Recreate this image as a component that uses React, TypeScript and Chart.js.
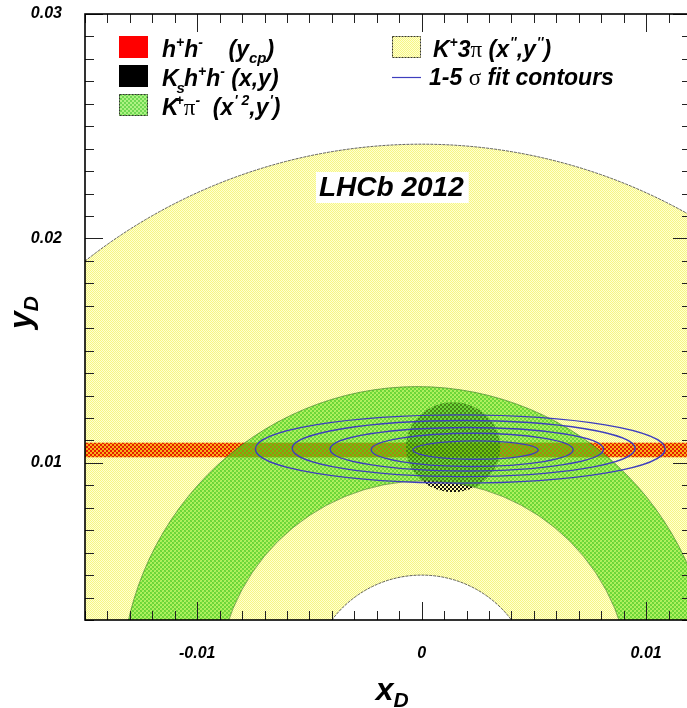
import React, { useEffect, useRef } from 'react';
import { Chart, registerables } from 'chart.js';

Chart.register(...registerables);

// Axis limits and labelled ticks
const X_LIMITS = [-0.015, 0.012];
const Y_LIMITS = [0.003, 0.03];
const X_TICK_LABELS = [-0.01, 0, 0.01];
const Y_TICK_LABELS = [0.01, 0.02, 0.03];
const MINOR_STEP = 0.001;

// K+3pi allowed ring, centred on the origin: [inner radius, outer radius]
const K3PI_RING = [0.005, 0.0242];
// K+pi- allowed ring edges: [centre x, radius along x, radius along y]
const KPI_OUTER = [-0.0002, 0.0132, 0.0134];
const KPI_INNER = [0.0001, 0.0092, 0.0092];
// h+h- band on y (y_CP): [low, high]
const YCP_BAND = [0.01025, 0.0109];
// Ks h+h- region: [centre x, centre y, radius x, radius y]
const KSHH_REGION = [0.0014, 0.0107, 0.0021, 0.002];

// 1-5 sigma fit contours (elliptical), one entry per sigma level
const CONTOUR_SIGMA = [1, 2, 3, 4, 5];
const CONTOUR_CX = [0.0024, 0.00225, 0.00201, 0.00187, 0.00172];
const CONTOUR_CY = [0.01057, 0.01058, 0.01061, 0.01064, 0.01062];
const CONTOUR_RX = [0.00279, 0.0045, 0.00609, 0.00764, 0.00913];
const CONTOUR_RY = [0.00041, 0.00074, 0.00097, 0.00125, 0.00152];

const SANS = '"Liberation Sans", Arial, Helvetica, sans-serif';
const SERIF = '"Liberation Serif", "Times New Roman", serif';
const CONTOUR_COLOR = 'rgb(62,62,190)';

type Seg = { t: string; s?: number; dy?: number; dx?: number; serif?: boolean };

function drawRich(ctx: CanvasRenderingContext2D, x: number, y: number, segs: Seg[], size: number) {
  let cx = x;
  for (const g of segs) {
    const sz = g.s ?? size;
    ctx.font = g.serif ? `${sz}px ${SERIF}` : `italic bold ${sz}px ${SANS}`;
    cx += g.dx ?? 0;
    ctx.fillText(g.t, cx, y + (g.dy ?? 0));
    cx += ctx.measureText(g.t).width;
  }
  return cx - x;
}

function measureRich(ctx: CanvasRenderingContext2D, segs: Seg[], size: number) {
  let w = 0;
  for (const g of segs) {
    const sz = g.s ?? size;
    ctx.font = g.serif ? `${sz}px ${SERIF}` : `italic bold ${sz}px ${SANS}`;
    w += (g.dx ?? 0) + ctx.measureText(g.t).width;
  }
  return w;
}

function makePattern(ctx: CanvasRenderingContext2D, size: number, paint: (g: CanvasRenderingContext2D) => void) {
  const c = document.createElement('canvas');
  c.width = size;
  c.height = size;
  const g = c.getContext('2d')!;
  paint(g);
  return ctx.createPattern(c, 'repeat')!;
}

function buildPatterns(ctx: CanvasRenderingContext2D) {
  return {
    yellow: makePattern(ctx, 2, (g) => {
      g.fillStyle = 'rgb(255,255,208)';
      g.fillRect(0, 0, 2, 2);
      g.fillStyle = 'rgb(246,246,132)';
      g.fillRect(0, 0, 1, 1);
      g.fillRect(1, 1, 1, 1);
    }),
    red: makePattern(ctx, 4, (g) => {
      g.fillStyle = 'rgba(246,165,0,0.85)';
      g.fillRect(0, 0, 4, 4);
      g.fillStyle = 'rgb(232,28,0)';
      g.fillRect(0, 0, 2, 2);
      g.fillRect(2, 2, 2, 2);
    }),
    black: makePattern(ctx, 4, (g) => {
      g.fillStyle = 'rgba(0,0,0,0.92)';
      g.fillRect(0, 0, 2, 2);
      g.fillRect(2, 2, 2, 2);
    }),
    green: makePattern(ctx, 4, (g) => {
      g.fillStyle = 'rgba(109,231,30,0.55)';
      g.fillRect(0, 0, 2, 2);
      g.fillRect(2, 2, 2, 2);
      g.fillStyle = 'rgba(50,200,10,0.7)';
      g.fillRect(2, 0, 2, 2);
      g.fillRect(0, 2, 2, 2);
    }),
  };
}

const regionsPlugin = {
  id: 'mixingRegions',
  beforeDatasetsDraw(chart: any) {
    const { ctx, chartArea: a } = chart;
    const xs = chart.scales.x;
    const ys = chart.scales.y;
    const px = (v: number) => xs.getPixelForValue(v);
    const py = (v: number) => ys.getPixelForValue(v);
    const sx = (d: number) => Math.abs(xs.getPixelForValue(d) - xs.getPixelForValue(0));
    const sy = (d: number) => Math.abs(ys.getPixelForValue(d) - ys.getPixelForValue(0));
    const pats = buildPatterns(ctx);

    ctx.save();
    ctx.beginPath();
    ctx.rect(a.left, a.top, a.right - a.left, a.bottom - a.top);
    ctx.clip();

    const ring = (cxo: number, rxo: number, ryo: number, cxi: number, rxi: number, ryi: number) => {
      ctx.beginPath();
      ctx.ellipse(px(cxo), py(0), sx(rxo), sy(ryo), 0, 0, Math.PI * 2);
      ctx.moveTo(px(cxi) + sx(rxi), py(0));
      ctx.ellipse(px(cxi), py(0), sx(rxi), sy(ryi), 0, 0, Math.PI * 2, true);
    };
    const edge = (cx: number, rx: number, ry: number) => {
      ctx.beginPath();
      ctx.ellipse(px(cx), py(0), sx(rx), sy(ry), 0, 0, Math.PI * 2);
      ctx.stroke();
    };

    // K+3pi ring
    ring(0, K3PI_RING[1], K3PI_RING[1], 0, K3PI_RING[0], K3PI_RING[0]);
    ctx.fillStyle = pats.yellow;
    ctx.fill('evenodd');
    ctx.strokeStyle = 'rgba(70,70,70,0.85)';
    ctx.lineWidth = 1;
    ctx.setLineDash([3, 1]);
    edge(0, K3PI_RING[1], K3PI_RING[1]);
    edge(0, K3PI_RING[0], K3PI_RING[0]);
    ctx.setLineDash([]);

    // h+h- band
    ctx.fillStyle = pats.red;
    ctx.fillRect(a.left, py(YCP_BAND[1]), a.right - a.left, py(YCP_BAND[0]) - py(YCP_BAND[1]));

    // Ks h+h- region
    ctx.beginPath();
    ctx.ellipse(px(KSHH_REGION[0]), py(KSHH_REGION[1]), sx(KSHH_REGION[2]), sy(KSHH_REGION[3]), 0, 0, Math.PI * 2);
    ctx.fillStyle = pats.black;
    ctx.fill();

    // K+pi- ring
    ring(KPI_OUTER[0], KPI_OUTER[1], KPI_OUTER[2], KPI_INNER[0], KPI_INNER[1], KPI_INNER[2]);
    ctx.fillStyle = pats.green;
    ctx.fill('evenodd');
    ctx.strokeStyle = 'rgba(60,120,40,0.6)';
    edge(KPI_OUTER[0], KPI_OUTER[1], KPI_OUTER[2]);
    edge(KPI_INNER[0], KPI_INNER[1], KPI_INNER[2]);

    // fit contours
    ctx.strokeStyle = CONTOUR_COLOR;
    ctx.lineWidth = 1.4;
    CONTOUR_SIGMA.forEach((_, i) => {
      ctx.beginPath();
      ctx.ellipse(px(CONTOUR_CX[i]), py(CONTOUR_CY[i]), sx(CONTOUR_RX[i]), sy(CONTOUR_RY[i]), 0, 0, Math.PI * 2);
      ctx.stroke();
    });
    ctx.restore();
  },
  afterDraw(chart: any) {
    const { ctx, chartArea: a } = chart;
    const xs = chart.scales.x;
    const ys = chart.scales.y;
    const pats = buildPatterns(ctx);
    ctx.save();

    // tick marks on all four sides
    ctx.strokeStyle = '#222';
    ctx.lineWidth = 1;
    ctx.beginPath();
    for (let i = Math.ceil(X_LIMITS[0] / MINOR_STEP - 1e-6); i <= Math.floor(X_LIMITS[1] / MINOR_STEP + 1e-6); i++) {
      const X = Math.round(xs.getPixelForValue(i * MINOR_STEP)) + 0.5;
      const len = i % 10 === 0 ? 18 : 9;
      ctx.moveTo(X, a.bottom);
      ctx.lineTo(X, a.bottom - len);
      ctx.moveTo(X, a.top);
      ctx.lineTo(X, a.top + len);
    }
    for (let i = Math.ceil(Y_LIMITS[0] / MINOR_STEP - 1e-6); i <= Math.floor(Y_LIMITS[1] / MINOR_STEP + 1e-6); i++) {
      const Y = Math.round(ys.getPixelForValue(i * MINOR_STEP)) + 0.5;
      const len = i % 10 === 0 ? 18 : 9;
      ctx.moveTo(a.left, Y);
      ctx.lineTo(a.left + len, Y);
      ctx.moveTo(a.right, Y);
      ctx.lineTo(a.right - len, Y);
    }
    ctx.stroke();

    // frame
    ctx.strokeStyle = '#000';
    ctx.lineWidth = 1.6;
    ctx.strokeRect(a.left, a.top, a.right - a.left, a.bottom - a.top);

    // legend
    ctx.fillStyle = '#000';
    ctx.textBaseline = 'alphabetic';
    ctx.textAlign = 'left';
    const bx = a.left + 34;
    const bw = 29;
    const bh = 22;
    const rows = [a.top + 22, a.top + 51, a.top + 80];
    ctx.fillStyle = '#ff0000';
    ctx.fillRect(bx, rows[0], bw, bh);
    ctx.fillStyle = '#000';
    ctx.fillRect(bx, rows[1], bw, bh);
    ctx.fillStyle = '#fff';
    ctx.fillRect(bx, rows[2], bw, bh);
    ctx.fillStyle = pats.green;
    ctx.fillRect(bx, rows[2], bw, bh);
    ctx.strokeStyle = '#333';
    ctx.lineWidth = 1;
    ctx.setLineDash([2, 1]);
    ctx.strokeRect(bx + 0.5, rows[2] + 0.5, bw - 1, bh - 1);
    ctx.setLineDash([]);

    const tx = a.left + 77;
    const sz = 23;
    const sup = { s: 14, dy: -10 };
    ctx.fillStyle = '#000';
    drawRich(ctx, tx, rows[0] + 21, [
      { t: 'h' }, { t: '+', ...sup }, { t: 'h' }, { t: '-', ...sup },
      { t: '    (' }, { t: 'y' }, { t: 'cp', s: 15, dy: 6 }, { t: ')' },
    ], sz);
    drawRich(ctx, tx, rows[1] + 21, [
      { t: 'K' }, { t: 's', s: 15, dy: 7, dx: -2 }, { t: 'h', dx: -1 }, { t: '+', ...sup }, { t: 'h' }, { t: '-', ...sup },
      { t: ' (x,y)' },
    ], sz);
    drawRich(ctx, tx, rows[2] + 21, [
      { t: 'K' }, { t: '+', ...sup, dx: -3 }, { t: 'π', serif: true }, { t: '-', ...sup },
      { t: '  (x' }, { t: "' 2", ...sup, dx: 1 }, { t: ',y' }, { t: "'", ...sup, dx: 1 }, { t: ')' },
    ], sz);

    const rbx = a.left + 307;
    ctx.fillStyle = pats.yellow;
    ctx.fillRect(rbx, rows[0], bw, bh);
    ctx.strokeStyle = '#333';
    ctx.setLineDash([2, 1]);
    ctx.strokeRect(rbx + 0.5, rows[0] + 0.5, bw - 1, bh - 1);
    ctx.setLineDash([]);
    ctx.strokeStyle = CONTOUR_COLOR;
    ctx.lineWidth = 1.2;
    ctx.beginPath();
    ctx.moveTo(rbx, a.top + 63.5);
    ctx.lineTo(rbx + bw, a.top + 63.5);
    ctx.stroke();
    ctx.fillStyle = '#000';
    drawRich(ctx, rbx + 41, rows[0] + 21, [
      { t: 'K' }, { t: '+', ...sup }, { t: '3' }, { t: 'π', serif: true },
      { t: ' (x' }, { t: "''", ...sup, dx: 1 }, { t: ',y' }, { t: "''", ...sup, dx: 1 }, { t: ')' },
    ], sz);
    drawRich(ctx, rbx + 37, a.top + 71, [
      { t: '1-5 ' }, { t: 'σ', serif: true }, { t: ' fit contours' },
    ], sz);

    // experiment label
    ctx.font = `italic bold 28px ${SANS}`;
    const lab = 'LHCb 2012';
    const lw = ctx.measureText(lab).width;
    const lx = a.left + 234;
    const ly = a.top + 182;
    ctx.fillStyle = '#fff';
    ctx.fillRect(lx - 3, ly - 24, lw + 8, 31);
    ctx.fillStyle = '#000';
    ctx.fillText(lab, lx, ly);

    // axis titles
    const xTitle: Seg[] = [{ t: 'x' }, { t: 'D', s: 21, dy: 7 }];
    drawRich(ctx, xs.getPixelForValue(0) - 46, a.bottom + 80, xTitle, 32);
    const yTitle: Seg[] = [{ t: 'y' }, { t: 'D', s: 21, dy: 7 }];
    const yw = measureRich(ctx, yTitle, 32);
    ctx.translate(31, ys.getPixelForValue(0.0167));
    ctx.rotate(-Math.PI / 2);
    drawRich(ctx, -yw / 2, 0, yTitle, 32);
    ctx.restore();
  },
};

const tickFont = { family: SANS, size: 16, style: 'italic' as const, weight: 'bold' as const };

export default function App() {
  const ref = useRef<HTMLCanvasElement | null>(null);
  useEffect(() => {
    if (!ref.current) return;
    const chart = new Chart(ref.current, {
      type: 'scatter',
      data: { datasets: [] },
      options: {
        animation: false,
        responsive: false,
        devicePixelRatio: 1,
        layout: { padding: { left: 0, right: 9, top: 14, bottom: 0 } },
        plugins: { legend: { display: false }, tooltip: { enabled: false } },
        scales: {
          x: {
            type: 'linear',
            min: X_LIMITS[0],
            max: X_LIMITS[1],
            grid: { display: false, drawTicks: false },
            border: { display: false },
            afterBuildTicks: (s: any) => { s.ticks = X_TICK_LABELS.map((value) => ({ value })); },
            afterFit: (s: any) => {
              s.height = 88;
              s.paddingLeft = 0;
              s.paddingRight = 0;
            },
            ticks: {
              autoSkip: false,
              maxRotation: 0,
              padding: 24,
              color: '#000',
              font: tickFont,
              callback: (v: any) => String(Number(v)),
            },
          },
          y: {
            type: 'linear',
            min: Y_LIMITS[0],
            max: Y_LIMITS[1],
            grid: { display: false, drawTicks: false },
            border: { display: false },
            afterBuildTicks: (s: any) => { s.ticks = Y_TICK_LABELS.map((value) => ({ value })); },
            afterFit: (s: any) => {
              s.width = 85;
              s.paddingTop = 0;
              s.paddingBottom = 0;
            },
            ticks: {
              autoSkip: false,
              padding: 23,
              color: '#000',
              font: tickFont,
              callback: (v: any) => String(Number(v)),
            },
          },
        },
      },
      plugins: [regionsPlugin],
    });
    return () => chart.destroy();
  }, []);
  return (
    <div style={{ position: 'fixed', left: 0, top: 0, width: 700, height: 708, background: '#fff', overflow: 'hidden' }}>
      <canvas ref={ref} width={700} height={708} style={{ width: 700, height: 708, display: 'block' }} />
    </div>
  );
}
